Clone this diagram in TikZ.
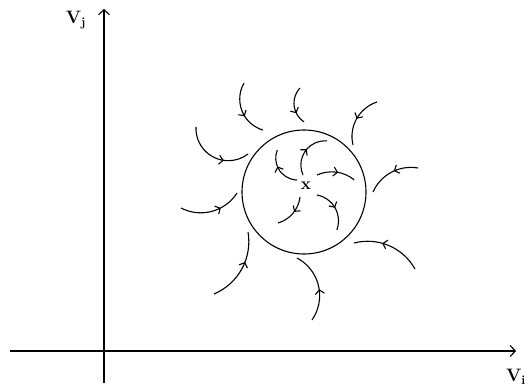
\documentclass[tikz,border=0pt]{standalone}
\usetikzlibrary{arrows.meta,decorations.markings}
\newcommand{\threearc}[7]{%
  \pgfmathsetmacro\taAx{#1/100}\pgfmathsetmacro\taAy{#2/100}%
  \pgfmathsetmacro\taBx{#3/100}\pgfmathsetmacro\taBy{#4/100}%
  \pgfmathsetmacro\taCx{#5/100}\pgfmathsetmacro\taCy{#6/100}%
  \pgfmathsetmacro\taD{2*(\taAx*(\taBy-\taCy)+\taBx*(\taCy-\taAy)+\taCx*(\taAy-\taBy))}%
  \pgfmathsetmacro\taUx{((\taAx*\taAx+\taAy*\taAy)*(\taBy-\taCy)+(\taBx*\taBx+\taBy*\taBy)*(\taCy-\taAy)+(\taCx*\taCx+\taCy*\taCy)*(\taAy-\taBy))/\taD}%
  \pgfmathsetmacro\taUy{((\taAx*\taAx+\taAy*\taAy)*(\taCx-\taBx)+(\taBx*\taBx+\taBy*\taBy)*(\taAx-\taCx)+(\taCx*\taCx+\taCy*\taCy)*(\taBx-\taAx))/\taD}%
  \pgfmathsetmacro\taR{100*veclen(\taAx-\taUx,\taAy-\taUy)}%
  \pgfmathsetmacro\taSa{atan2(\taAy-\taUy,\taAx-\taUx)}%
  \pgfmathsetmacro\taMa{atan2(\taBy-\taUy,\taBx-\taUx)}%
  \pgfmathsetmacro\taEa{atan2(\taCy-\taUy,\taCx-\taUx)}%
  \pgfmathsetmacro\taMr{mod(\taMa-\taSa+720,360)}%
  \pgfmathsetmacro\taEr{mod(\taEa-\taSa+720,360)}%
  \pgfmathsetmacro\taEe{\taMr<\taEr ? \taSa+\taEr : \taSa+\taEr-360}%
  \draw[flow=#7] (#1,#2) arc[start angle=\taSa, end angle=\taEe, radius=\taR];%
}
\begin{document}
\begin{tikzpicture}[x=1pt,y=-1pt,line width=1.1pt,
  axis/.style={line width=1.1pt,-{Straight Barb[length=5pt,width=11pt]}},
  flow/.style={decoration={markings,mark=at position #1 with {\arrow{Straight Barb[length=4pt,width=9pt]}}},postaction={decorate}},
  lab/.style={inner sep=0pt,font=\fontsize{18}{20}\selectfont\bfseries}]
\useasboundingbox (0,0) rectangle (531,391);
% axes
\coordinate (o1) at (104,383);
\coordinate (yt) at (104,9);
\coordinate (o2) at (10,351);
\coordinate (xt) at (516,351);
\draw[axis] (o1) -- (yt);
\draw[axis] (o2) -- (xt);
\node[lab] (vj) at (76,20) {V\textsubscript{j}};
\node[lab] (vi) at (516,377) {V\textsubscript{i}};
% circle and centre
\node[draw,circle,minimum size=124pt,inner sep=0pt,line width=1.1pt] (c) at (304,192) {};
\node[inner sep=0pt,font=\fontsize{17}{19}\selectfont\bfseries] (xx) at (306,186) {x};
% outside arcs
\threearc{244}{83}{241}{108}{263}{130}{0.6}
\threearc{300}{88}{294}{104}{304}{122}{0.7}
\threearc{377}{102}{359}{115}{353}{145}{0.5}
\threearc{418}{168}{390}{173}{373}{192}{0.45}
\threearc{415}{269}{392}{247}{354}{243}{0.6}
\threearc{312}{320}{319}{288}{297}{258}{0.45}
\threearc{214}{294}{240}{272}{248}{232}{0.6}
\threearc{181}{208}{209}{212}{237}{193}{0.65}
\threearc{196}{127}{210}{155}{248}{154}{0.65}
% inside arcs
\threearc{297}{180}{279}{170}{277}{150}{0.6}
\threearc{303}{175}{304}{153}{327}{141}{0.55}
\threearc{317}{175}{334}{172}{354}{180}{0.55}
\threearc{317}{195}{334}{206}{337}{230}{0.5}
\threearc{300}{197}{294}{212}{278}{223}{0.45}
\end{tikzpicture}
\end{document}
